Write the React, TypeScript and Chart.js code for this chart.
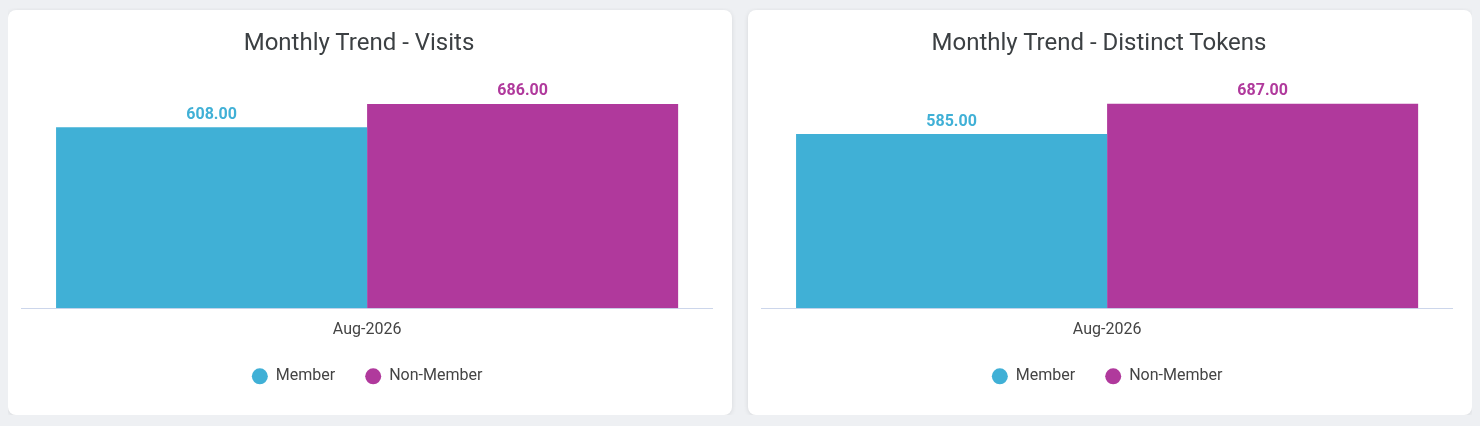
import React, { useEffect, useRef } from "react";
import { Chart, registerables } from "chart.js";

Chart.register(...registerables);

const categories = ["Aug-2026"];
const seriesNames = ["Member", "Non-Member"];
const visitsMember = [608];
const visitsNonMember = [686];
const tokensMember = [585];
const tokensNonMember = [687];
const yMax = 700;
const seriesColors = ["#40b0d6", "#b0399c"];

const valueLabels = {
  id: "valueLabels",
  afterDatasetsDraw(chart: any) {
    const { ctx } = chart;
    ctx.save();
    ctx.font = "bold 16px Roboto";
    ctx.textAlign = "center";
    ctx.textBaseline = "alphabetic";
    chart.data.datasets.forEach((ds: any, i: number) => {
      const meta = chart.getDatasetMeta(i);
      meta.data.forEach((el: any, j: number) => {
        ctx.fillStyle = ds.backgroundColor;
        ctx.fillText(Number(ds.data[j]).toFixed(2), el.x, el.y - 8.5);
      });
    });
    ctx.restore();
  },
};

function TrendCard({ title, member, nonMember }: { title: string; member: number[]; nonMember: number[] }) {
  const ref = useRef<HTMLCanvasElement | null>(null);
  useEffect(() => {
    if (!ref.current) return;
    const chart = new Chart(ref.current, {
      type: "bar",
      data: {
        labels: categories,
        datasets: [
          {
            label: seriesNames[0],
            data: member,
            backgroundColor: seriesColors[0],
            borderWidth: 0,
            categoryPercentage: 0.9,
            barPercentage: 1,
          },
          {
            label: seriesNames[1],
            data: nonMember,
            backgroundColor: seriesColors[1],
            borderWidth: 0,
            categoryPercentage: 0.9,
            barPercentage: 1,
          },
        ],
      },
      options: {
        animation: false,
        responsive: true,
        maintainAspectRatio: false,
        events: [],
        layout: { padding: { top: 89.8, bottom: 20.7, left: 13.5, right: 19.3 } },
        plugins: {
          title: { display: false },
          tooltip: { enabled: false },
          legend: {
            position: "bottom",
            labels: {
              usePointStyle: true,
              pointStyle: "circle",
              boxWidth: 16,
              boxHeight: 11.3,
              padding: 30,
              color: "#444444",
              font: { family: "Roboto", size: 16 },
            },
          },
        },
        scales: {
          x: {
            grid: { display: false, drawTicks: false },
            border: { display: true, color: "#ccd6eb", width: 1 },
            ticks: {
              color: "#444444",
              padding: 14,
              font: { family: "Roboto", size: 16, lineHeight: 1 },
            },
            afterFit: (scale: any) => {
              scale.height = 30;
            },
          },
          y: { display: false, min: 0, max: yMax },
        },
      },
      plugins: [valueLabels],
    } as any);
    return () => chart.destroy();
  }, [member, nonMember]);

  return (
    <div
      style={{
        position: "relative",
        width: 724,
        height: 405,
        background: "#ffffff",
        borderRadius: 8,
        boxShadow: "0 1px 5px rgba(0,0,0,0.10)",
        flex: "0 0 auto",
      }}
    >
      <div style={{ position: "absolute", left: 0, top: 0, width: 724, height: 405 }}>
        <canvas ref={ref} />
      </div>
      <div
        style={{
          position: "absolute",
          top: 18,
          left: 0,
          right: 22,
          textAlign: "center",
          fontFamily: "Roboto",
          fontSize: 24,
          lineHeight: "28px",
          color: "#3c4043",
        }}
      >
        {title}
      </div>
    </div>
  );
}

export default function App() {
  useEffect(() => {
    document.body.style.background = "#eef0f3";
  }, []);
  return (
    <div style={{ display: "flex", gap: 16, marginTop: 2 }}>
      <TrendCard title="Monthly Trend - Visits" member={visitsMember} nonMember={visitsNonMember} />
      <TrendCard title="Monthly Trend - Distinct Tokens" member={tokensMember} nonMember={tokensNonMember} />
    </div>
  );
}
